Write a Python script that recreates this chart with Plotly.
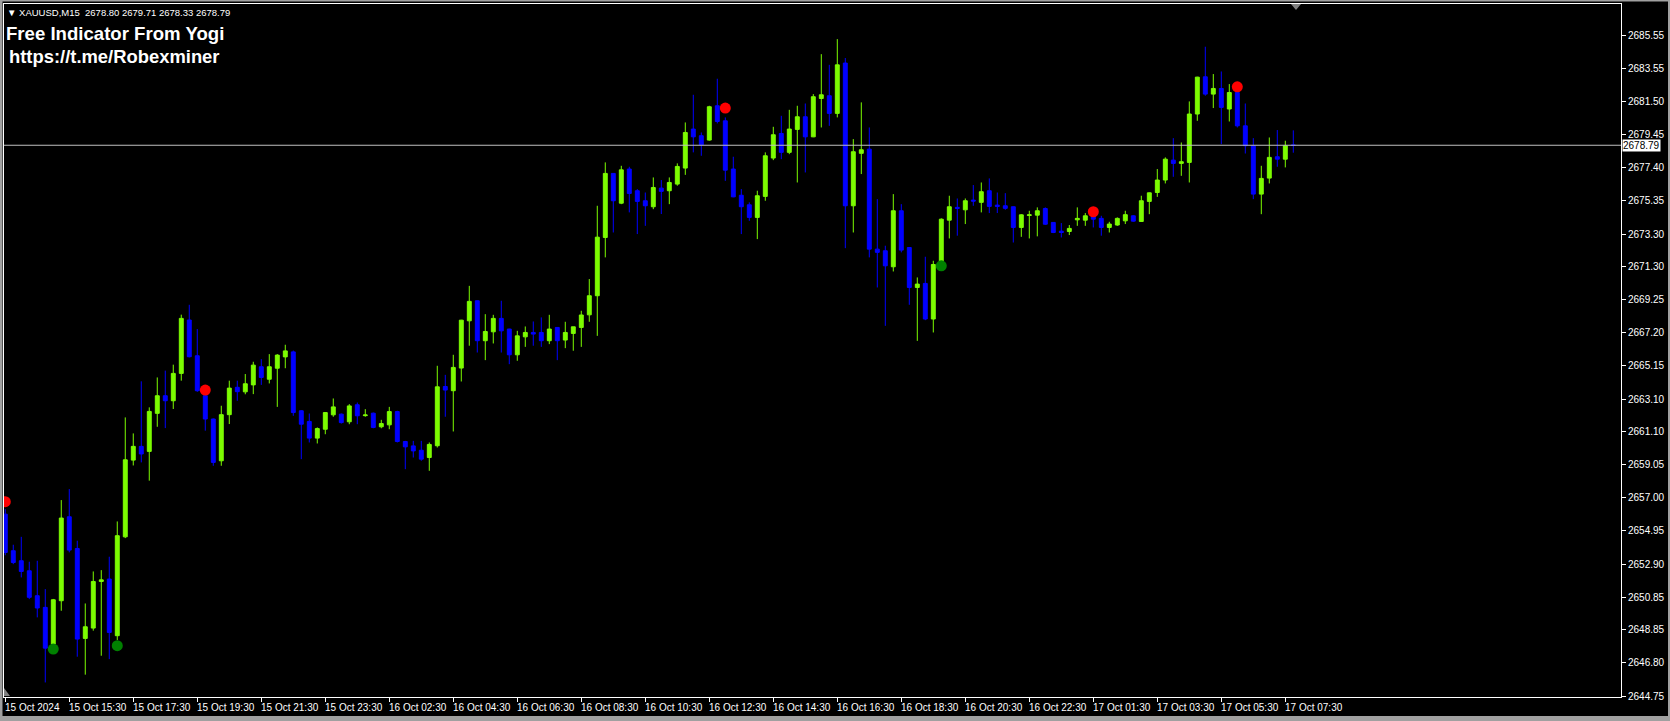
import plotly.graph_objects as go

# ---------------- data (XAUUSD M15, 15 Oct 13:30 -> 17 Oct 07:45) ----------------
open_ = [2655.99, 2653.73, 2653.11, 2652.49, 2650.95, 2650.23, 2647.96, 2650.64, 2655.83, 2653.87,
         2648.31, 2648.95, 2651.83, 2651.98, 2648.48, 2654.59, 2659.33, 2660.18, 2659.87, 2662.22,
         2663.31, 2663.00, 2664.69, 2667.99, 2665.78, 2663.31, 2661.87, 2659.29, 2662.14, 2663.83,
         2663.55, 2663.98, 2665.10, 2664.33, 2665.01, 2665.71, 2666.02, 2662.38, 2661.72, 2660.69,
         2661.24, 2662.13, 2662.17, 2661.70, 2662.75, 2662.08, 2662.23, 2661.39, 2661.51, 2662.33,
         2660.48, 2660.21, 2659.94, 2659.49, 2660.22, 2663.88, 2663.62, 2665.02, 2667.94, 2669.18,
         2666.71, 2667.26, 2668.09, 2667.43, 2665.84, 2666.95, 2667.22, 2667.22, 2666.71, 2667.53,
         2666.75, 2667.16, 2667.53, 2668.31, 2669.49, 2673.09, 2677.05, 2675.21, 2677.32, 2675.98,
         2675.36, 2674.99, 2676.14, 2675.98, 2676.39, 2677.38, 2679.79, 2679.38, 2679.11, 2681.23,
         2680.30, 2677.32, 2675.70, 2675.11, 2674.33, 2675.63, 2678.00, 2679.52, 2678.35, 2679.77,
         2680.55, 2679.31, 2681.68, 2681.85, 2680.76, 2683.87, 2675.05, 2678.29, 2678.55, 2672.37,
         2672.27, 2671.28, 2674.74, 2672.47, 2670.00, 2670.25, 2668.05, 2671.55, 2674.16, 2674.95,
         2674.80, 2675.40, 2675.26, 2675.98, 2675.09, 2675.05, 2674.99, 2673.71, 2674.45, 2674.47,
         2674.88, 2674.02, 2673.48, 2673.46, 2674.18, 2674.16, 2674.43, 2674.27, 2673.71, 2673.86,
         2674.12, 2674.43, 2674.08, 2675.32, 2675.87, 2676.64, 2677.87, 2677.67, 2677.73, 2680.72,
         2683.02, 2681.95, 2682.30, 2681.03, 2682.05, 2679.99, 2678.76, 2675.77, 2676.76, 2678.08,
         2677.93, 2678.80]
high = [2656.30, 2654.10, 2654.59, 2653.05, 2653.11, 2651.36, 2650.75, 2656.86, 2657.54, 2654.35,
        2650.47, 2652.45, 2652.53, 2653.36, 2655.54, 2661.97, 2660.98, 2664.20, 2662.59, 2664.44,
        2664.86, 2665.23, 2668.32, 2668.93, 2667.43, 2663.50, 2661.90, 2662.69, 2664.24, 2664.24,
        2664.65, 2665.41, 2665.57, 2665.88, 2665.88, 2666.46, 2666.10, 2662.42, 2662.21, 2661.35,
        2662.27, 2663.14, 2662.21, 2662.79, 2662.89, 2662.48, 2662.27, 2661.82, 2662.62, 2662.38,
        2660.52, 2660.52, 2660.52, 2660.42, 2665.16, 2664.60, 2665.84, 2668.00, 2670.10, 2669.20,
        2668.35, 2668.31, 2669.18, 2667.45, 2667.32, 2667.59, 2667.90, 2668.15, 2668.31, 2667.55,
        2667.88, 2667.57, 2668.56, 2670.52, 2675.05, 2677.73, 2677.07, 2677.52, 2677.46, 2676.08,
        2675.87, 2676.80, 2676.64, 2676.80, 2677.67, 2680.20, 2681.91, 2679.58, 2681.23, 2682.90,
        2680.51, 2678.08, 2676.08, 2675.26, 2675.98, 2678.35, 2679.93, 2680.61, 2680.98, 2681.23,
        2681.37, 2681.95, 2684.42, 2683.76, 2685.35, 2684.18, 2679.17, 2681.44, 2679.89, 2675.46,
        2672.58, 2675.77, 2675.15, 2672.50, 2670.62, 2671.90, 2671.65, 2674.27, 2675.67, 2675.50,
        2675.50, 2676.33, 2676.49, 2676.74, 2675.87, 2675.83, 2675.01, 2674.53, 2674.74, 2674.95,
        2674.95, 2674.04, 2673.98, 2673.86, 2674.95, 2674.60, 2674.64, 2674.43, 2674.06, 2674.33,
        2674.74, 2674.47, 2675.67, 2675.87, 2677.32, 2678.04, 2679.23, 2678.96, 2681.50, 2683.02,
        2684.88, 2683.19, 2683.35, 2682.57, 2682.10, 2681.37, 2679.23, 2677.52, 2679.27, 2679.73,
        2679.07, 2679.71]
low = [2653.45, 2652.90, 2652.08, 2650.74, 2649.61, 2645.59, 2647.80, 2650.02, 2653.63, 2647.18,
       2646.07, 2648.79, 2647.24, 2647.03, 2648.21, 2654.51, 2659.00, 2659.19, 2658.06, 2661.39,
       2661.31, 2662.49, 2664.24, 2665.68, 2663.55, 2661.15, 2658.98, 2658.98, 2661.56, 2663.00,
       2663.40, 2663.41, 2663.98, 2664.07, 2662.62, 2665.01, 2662.07, 2659.39, 2660.42, 2660.36,
       2660.93, 2662.01, 2661.59, 2661.55, 2661.55, 2662.01, 2661.30, 2661.30, 2661.24, 2660.42,
       2658.77, 2659.49, 2659.29, 2658.67, 2660.11, 2662.01, 2661.10, 2664.19, 2666.40, 2665.98,
       2665.51, 2666.54, 2665.98, 2665.26, 2665.47, 2666.33, 2666.40, 2666.33, 2666.50, 2665.51,
       2666.25, 2666.09, 2666.33, 2667.88, 2667.01, 2671.86, 2673.40, 2675.15, 2674.64, 2673.30,
       2673.81, 2674.84, 2674.54, 2675.15, 2676.29, 2676.96, 2678.35, 2678.14, 2679.07, 2680.14,
       2676.59, 2675.58, 2673.30, 2674.12, 2672.99, 2675.36, 2677.87, 2677.93, 2678.24, 2676.49,
       2677.11, 2679.29, 2679.89, 2679.99, 2680.51, 2672.43, 2673.40, 2677.01, 2671.86, 2670.00,
       2667.63, 2670.99, 2672.17, 2668.93, 2666.70, 2667.98, 2667.22, 2671.50, 2673.03, 2673.20,
       2673.92, 2675.05, 2674.64, 2674.60, 2674.60, 2674.80, 2672.78, 2673.13, 2673.03, 2673.16,
       2673.86, 2673.36, 2673.09, 2673.24, 2673.81, 2673.81, 2673.71, 2673.20, 2673.40, 2673.81,
       2673.92, 2674.06, 2674.06, 2674.53, 2675.60, 2676.43, 2676.84, 2676.90, 2676.49, 2680.30,
       2681.85, 2681.09, 2678.86, 2680.26, 2679.89, 2678.28, 2675.46, 2674.53, 2676.43, 2677.46,
       2677.42, 2678.33]
close = [2653.62, 2653.00, 2652.45, 2650.85, 2650.19, 2647.71, 2650.70, 2655.75, 2653.77, 2648.27,
         2649.03, 2651.83, 2651.93, 2648.68, 2654.66, 2659.35, 2660.18, 2659.71, 2662.34, 2663.31,
         2663.00, 2664.69, 2668.09, 2665.72, 2663.62, 2661.87, 2659.19, 2662.14, 2663.78, 2663.56,
         2664.05, 2665.20, 2664.44, 2665.10, 2665.82, 2666.08, 2662.27, 2661.55, 2660.69, 2661.28,
         2662.27, 2662.62, 2661.65, 2662.68, 2662.07, 2662.12, 2661.35, 2661.59, 2662.33, 2660.48,
         2660.15, 2659.90, 2659.39, 2660.30, 2663.86, 2663.66, 2665.06, 2667.98, 2669.14, 2666.71,
         2667.28, 2668.09, 2667.32, 2665.84, 2667.01, 2667.22, 2667.12, 2666.71, 2667.43, 2666.71,
         2667.22, 2667.57, 2668.30, 2669.49, 2673.11, 2677.05, 2675.36, 2677.27, 2675.81, 2675.32,
         2675.05, 2676.18, 2675.94, 2676.49, 2677.48, 2679.58, 2679.31, 2678.82, 2681.17, 2680.26,
         2677.25, 2675.60, 2674.99, 2674.33, 2675.67, 2678.14, 2679.44, 2678.35, 2679.79, 2680.55,
         2679.31, 2681.79, 2681.91, 2680.76, 2683.76, 2675.05, 2678.39, 2678.51, 2672.37, 2672.17,
         2671.34, 2674.74, 2672.31, 2670.00, 2670.21, 2668.05, 2671.42, 2674.22, 2674.99, 2674.89,
         2675.36, 2675.34, 2675.92, 2675.01, 2675.01, 2674.89, 2673.71, 2674.49, 2674.49, 2674.74,
         2673.91, 2673.40, 2673.40, 2673.65, 2674.27, 2674.43, 2674.22, 2673.71, 2673.92, 2674.27,
         2674.50, 2674.10, 2675.36, 2675.85, 2676.64, 2677.93, 2677.67, 2677.77, 2680.72, 2683.00,
         2681.95, 2682.30, 2681.13, 2682.05, 2679.99, 2678.76, 2675.77, 2676.74, 2678.04, 2677.93,
         2678.76, 2678.79]
bars = list(range(len(open_)))

# indicator signals (bar index, price)
sell_bar = [0, 25, 90, 136, 154]
sell_price = [2656.76, 2663.66, 2681.09, 2674.68, 2682.40]
buy_bar = [6, 14, 117]
buy_price = [2647.65, 2647.86, 2671.34]

# axis labels
time_labels = ["15 Oct 2024", "15 Oct 15:30", "15 Oct 17:30", "15 Oct 19:30", "15 Oct 21:30",
               "15 Oct 23:30", "16 Oct 02:30", "16 Oct 04:30", "16 Oct 06:30", "16 Oct 08:30",
               "16 Oct 10:30", "16 Oct 12:30", "16 Oct 14:30", "16 Oct 16:30", "16 Oct 18:30",
               "16 Oct 20:30", "16 Oct 22:30", "17 Oct 01:30", "17 Oct 03:30", "17 Oct 05:30",
               "17 Oct 07:30"]
label_every = 8
price_ticks = [2685.55, 2683.55, 2681.50, 2679.45, 2677.40, 2675.35, 2673.30, 2671.30, 2669.25,
               2667.20, 2665.15, 2663.10, 2661.10, 2659.05, 2657.00, 2654.95, 2652.90, 2650.85,
               2648.85, 2646.80, 2644.75]

header = "\u25BC XAUUSD,M15  2678.80 2679.71 2678.33 2678.79"
title1 = "Free Indicator From Yogi"
title2 = "https://t.me/Robexminer"

BULL = "#7CFC00"
BEAR = "#0000FF"
FONT = "Liberation Sans, Arial, sans-serif"
AXFONT = dict(family=FONT, size=10, color="#FFFFFF")

fig = go.Figure()
fig.add_trace(go.Candlestick(
    x=bars, open=open_, high=high, low=low, close=close,
    increasing=dict(line=dict(color=BULL, width=1), fillcolor=BULL),
    decreasing=dict(line=dict(color=BEAR, width=1), fillcolor=BEAR),
    whiskerwidth=0, showlegend=False, hoverinfo="skip"))
fig.add_trace(go.Scatter(x=sell_bar, y=sell_price, mode="markers",
                         marker=dict(color="#FF0000", size=11), showlegend=False,
                         cliponaxis=True, hoverinfo="skip"))
fig.add_trace(go.Scatter(x=buy_bar, y=buy_price, mode="markers",
                         marker=dict(color="#008000", size=11), showlegend=False,
                         cliponaxis=True, hoverinfo="skip"))

tick_pos = [i * label_every for i in range(len(time_labels))]

annotations = []
for p, t in zip(tick_pos, time_labels):
    annotations.append(dict(x=p, y=0, xref="x", yref="paper", text=t, showarrow=False,
                            xanchor="left", yanchor="middle", xshift=-2, yshift=-10,
                            font=AXFONT))
annotations.append(dict(x=1, y=close[-1], xref="paper", yref="y", text=f"{close[-1]:.2f}",
                        showarrow=False, xanchor="left", yanchor="middle", xshift=1,
                        bgcolor="#FFFFFF", borderpad=0,
                        font=dict(family=FONT, size=10, color="#000000")))
annotations.append(dict(x=0, y=1, xref="paper", yref="paper", text=header, showarrow=False,
                        xanchor="left", yanchor="middle", xshift=1, yshift=-8,
                        font=dict(family=FONT, size=9.5, color="#FFFFFF")))
annotations.append(dict(x=0, y=1, xref="paper", yref="paper", text=f"<b>{title1}</b>", showarrow=False,
                        xanchor="left", yanchor="middle", xshift=0, yshift=-29,
                        font=dict(family=FONT, size=18.6, color="#FFFFFF")))
annotations.append(dict(x=0, y=1, xref="paper", yref="paper", text=f"<b>{title2}</b>", showarrow=False,
                        xanchor="left", yanchor="middle", xshift=3, yshift=-52,
                        font=dict(family=FONT, size=18.4, color="#FFFFFF")))

# plot area: pixels x 4..1621, y 4..697 of a 1670x721 canvas
W, H, L, R, T, B = 1670, 721, 4, 49, 4, 24
pw, ph = W - L - R, H - T - B
def px(x):
    return (x - L) / pw
def py(y):
    return 1 - (y - T) / ph

GREY = "#A0A0A0"
shapes = [
    dict(type="line", xref="paper", yref="y", x0=0, x1=1, y0=close[-1], y1=close[-1],
         line=dict(color="#C0C0C0", width=1)),
    # window border
    dict(type="rect", xref="paper", yref="paper", x0=px(0), x1=px(2.5), y0=py(721), y1=py(0),
         fillcolor=GREY, line=dict(width=0), layer="above"),
    dict(type="rect", xref="paper", yref="paper", x0=px(0), x1=px(1670), y0=py(1.5), y1=py(0),
         fillcolor=GREY, line=dict(width=0), layer="above"),
    dict(type="rect", xref="paper", yref="paper", x0=px(0), x1=px(1670), y0=py(721), y1=py(716),
         fillcolor=GREY, line=dict(width=0), layer="above"),
    dict(type="rect", xref="paper", yref="paper", x0=px(1668), x1=px(1670), y0=py(721), y1=py(0),
         fillcolor=GREY, line=dict(width=0), layer="above"),
    # chart-shift marker
    dict(type="path", xref="paper", yref="paper",
         path=f"M {px(1291)} {py(4)} L {px(1301)} {py(4)} L {px(1296)} {py(10)} Z",
         fillcolor="#808080", line=dict(width=0), layer="above"),
    # scale-fix marker
    dict(type="path", xref="paper", yref="paper",
         path=f"M {px(4)} {py(688)} L {px(4)} {py(696)} L {px(10)} {py(696)} Z",
         fillcolor="#808080", line=dict(width=0), layer="above"),
]

fig.update_layout(
    width=W, height=H,
    margin=dict(l=L, r=R, t=T, b=B, pad=0),
    paper_bgcolor="#000000", plot_bgcolor="#000000",
    showlegend=False,
    annotations=annotations,
    shapes=shapes,
    xaxis=dict(range=[-0.16, 201.96], rangeslider=dict(visible=False), showgrid=False,
               zeroline=False, showline=True, linecolor="#FFFFFF", linewidth=1, mirror=True,
               tickmode="array", tickvals=tick_pos, ticks="outside", ticklen=4,
               tickcolor="#FFFFFF", showticklabels=False),
    yaxis=dict(range=[2644.69, 2687.52], side="right", showgrid=False, zeroline=False,
               showline=True, linecolor="#FFFFFF", linewidth=1, mirror=True,
               tickmode="array", tickvals=price_ticks, ticktext=[f"{v:.2f}" for v in price_ticks],
               ticks="outside", ticklen=4, tickcolor="#FFFFFF", tickfont=AXFONT),
)

fig.write_html("out.html", config={"displayModeBar": False},
               post_script="document.body.style.margin='0';document.body.style.padding='0';"
                           "document.body.style.overflow='hidden';document.body.style.background='#000';")
